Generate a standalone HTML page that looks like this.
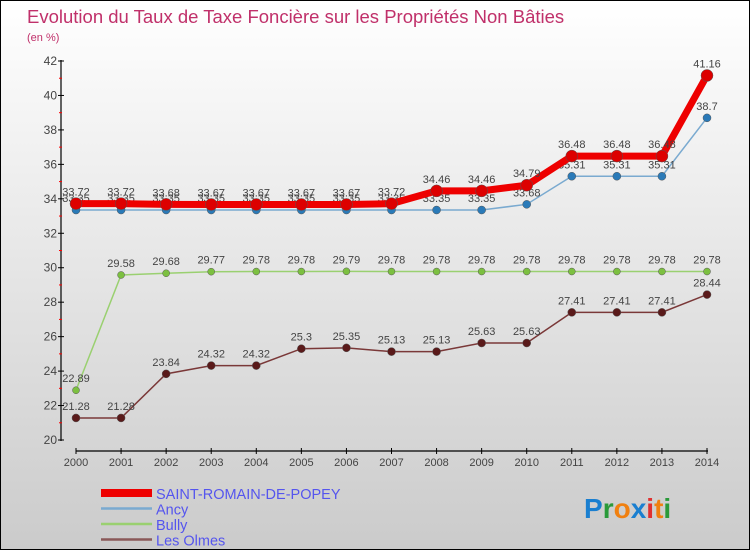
<!DOCTYPE html>
<html><head><meta charset="utf-8"><style>
html,body{margin:0;padding:0}
body{width:750px;height:550px;overflow:hidden;font-family:"Liberation Sans",sans-serif}
#wrap{position:relative;width:748px;height:548px;border:1px solid #000;background:linear-gradient(#fff,#cbcbcb)}
</style></head><body>
<div id="wrap">
<svg id="chart" width="748" height="548" xmlns="http://www.w3.org/2000/svg">
<text x="26" y="22" font-size="18.5" fill="#c0306a" font-weight="normal">Evolution du Taux de Taxe Foncière sur les Propriétés Non Bâties</text>
<text x="26" y="40" font-size="11" fill="#c0306a">(en %)</text>
<g id="axes"></g><g id="series"></g><g id="legend"></g>
<text x="583" y="517" font-size="28" font-weight="bold"><tspan fill="#1a7fd0">P</tspan><tspan fill="#2a9a3a">r</tspan><tspan fill="#f08010">o</tspan><tspan fill="#1a7fd0">x</tspan><tspan fill="#e03030">i</tspan><tspan fill="#f08010">t</tspan><tspan fill="#2a9a3a">i</tspan></text>
</svg></div>
<script>
const years=["2000","2001","2002","2003","2004","2005","2006","2007","2008","2009","2010","2011","2012","2013","2014"];
const yTicks=[20,22,24,26,28,30,32,34,36,38,40,42];
const srp=[33.72,33.72,33.68,33.67,33.67,33.67,33.67,33.72,34.46,34.46,34.79,36.48,36.48,36.48,41.16];
const ancy=[33.35,33.35,33.35,33.35,33.35,33.35,33.35,33.35,33.35,33.35,33.68,35.31,35.31,35.31,38.7];
const bully=[22.89,29.58,29.68,29.77,29.78,29.78,29.79,29.78,29.78,29.78,29.78,29.78,29.78,29.78,29.78];
const olmes=[21.28,21.28,23.84,24.32,24.32,25.3,25.35,25.13,25.13,25.63,25.63,27.41,27.41,27.41,28.44];
const NS="http://www.w3.org/2000/svg";
const X=i=>75+i*(706-75)/(years.length-1);
const Y=v=>439-(v-20)*(439-60)/22;
function mk(tag,attrs,parent,txt){const e=document.createElementNS(NS,tag);for(const k in attrs)e.setAttribute(k,attrs[k]);if(txt!==undefined)e.textContent=txt;parent.appendChild(e);return e;}
const ax=document.getElementById('axes');
let a=mk('line',{x1:60,y1:59,x2:60,y2:440,stroke:'#000','stroke-width':1.2},ax);

a=mk('line',{x1:75,y1:450,x2:707,y2:450,stroke:'#000','stroke-width':1.2},ax);

yTicks.forEach(v=>{mk('line',{x1:57,x2:63,y1:Y(v),y2:Y(v),stroke:'#000'},ax);
 if(v<42)mk('line',{x1:58,x2:61,y1:Y(v+1),y2:Y(v+1),stroke:'#f00'},ax);
 const t=mk('text',{x:56,y:Y(v)+4,'font-size':12,fill:'#444','text-anchor':'end'},ax,String(v));
 });
years.forEach((y,i)=>{mk('line',{x1:X(i),x2:X(i),y1:447,y2:453,stroke:'#000'},ax);
 const t=mk('text',{x:X(i),y:465,'font-size':11,fill:'#444','text-anchor':'middle'},ax,y);
 });
const sg=document.getElementById('series');
function series(data,color,w,r,dot,name,lblDy){
 const g=mk('g',{},sg);
 const p=mk('polyline',{points:data.map((v,i)=>X(i)+','+Y(v)).join(' '),fill:'none',stroke:color,'stroke-width':w},g);
 
 data.forEach((v,i)=>{const c=mk('circle',{cx:X(i),cy:Y(v),r:r,fill:dot,stroke:'#555','stroke-width':0.5},g);
  
  const t=mk('text',{x:X(i),y:Y(v)+lblDy,'font-size':11,fill:'#444','text-anchor':'middle'},g,String(v));
  });
}
series(olmes,'#7a3838',1.5,4,'#5a1a1a','les-olmes',-8);
series(bully,'#9ad070',1.5,3.5,'#7cc040','bully',-8);
series(ancy,'#7aaad0',1.5,4,'#2a7ab8','ancy',-8);
series(srp,'#ee0000',7,6,'#dd0000','saint-romain',-8);
const lg=document.getElementById('legend');
[['SAINT-ROMAIN-DE-POPEY','#ee0000',8],['Ancy','#7aaad0',2.5],['Bully','#9ad070',2.5],['Les Olmes','#8a5858',2.5]].forEach((d,i)=>{
 const y=492+i*15.5;
 const l=mk('line',{x1:100,x2:151,y1:y,y2:y,stroke:d[1],'stroke-width':d[2]},lg);
 
 const t=mk('text',{x:155,y:y+6,'font-size':14.5,fill:'#5555ee'},lg,d[0]);
 });
</script>
</body></html>
